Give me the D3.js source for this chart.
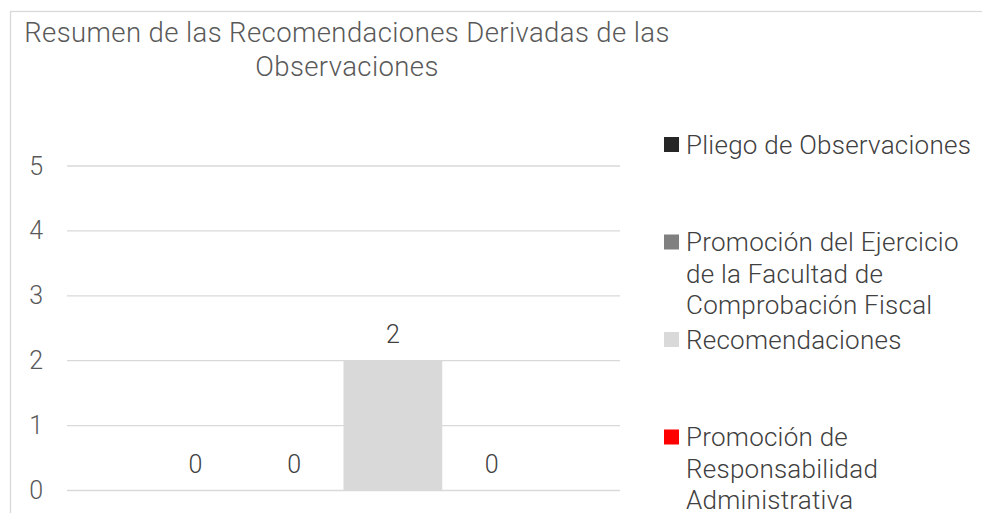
<!DOCTYPE html>
<html>
<head>
<meta charset="utf-8">
<script src="https://cdn.jsdelivr.net/npm/d3@7"></script>
<style>
  html, body { margin: 0; padding: 0; background: #fff; }
  svg { display: block; }
  text { font-family: Roboto, "Noto Sans", sans-serif; font-weight: 300; }
</style>
</head>
<body>
<svg id="chart" width="982" height="513"></svg>
<script>
const titleLines = ["Resumen de las Recomendaciones Derivadas de las", "Observaciones"];
const categories = ["Total"];
const seriesNames = [
  "Pliego de Observaciones",
  "Promoción del Ejercicio de la Facultad de Comprobación Fiscal",
  "Recomendaciones",
  "Promoción de Responsabilidad Administrativa"
];
const legendLines = [
  ["Pliego de Observaciones"],
  ["Promoción del Ejercicio", "de la Facultad de", "Comprobación Fiscal"],
  ["Recomendaciones"],
  ["Promoción de", "Responsabilidad", "Administrativa"]
];
const seriesValues = [0, 0, 2, 0];
const seriesColors = ["#262626", "#808080", "#d9d9d9", "#ff0000"];
const yTicks = [0, 1, 2, 3, 4, 5];

const svg = d3.select("#chart");

// chart area border
svg.append("rect")
  .attr("x", 10.5).attr("y", 11.5)
  .attr("width", 1000).attr("height", 520)
  .attr("fill", "#fff").attr("stroke", "#d9d9d9").attr("stroke-width", 1.3);

// title
svg.append("g").selectAll("text").data(titleLines).join("text")
  .attr("x", 347).attr("y", (d, i) => 41.5 + i * 34)
  .attr("text-anchor", "middle")
  .attr("fill", "#595959")
  .style("font-size", "27.5px")
  .style("letter-spacing", "0.4px")
  .text(d => d);

const plot = { left: 67, right: 620, top: 166, bottom: 490.5 };

const y = d3.scaleLinear().domain([0, 5]).range([plot.bottom, plot.top]);
const x0 = d3.scaleBand().domain(categories).range([plot.left, plot.right]);
const x1 = d3.scaleBand().domain(seriesNames).range([0, x0.bandwidth()])
  .paddingInner(0).paddingOuter(0.8);

// gridlines
svg.append("g").selectAll("line").data(yTicks).join("line")
  .attr("x1", plot.left).attr("x2", plot.right)
  .attr("y1", d => y(d)).attr("y2", d => y(d))
  .attr("stroke", "#d9d9d9").attr("stroke-width", 1.3);

// y axis labels
const yAxis = d3.axisLeft(y).tickValues(yTicks).tickSize(0).tickPadding(0).tickFormat(d3.format("d"));
const yg = svg.append("g").attr("transform", `translate(${plot.left - 24},0)`).call(yAxis);
yg.select(".domain").remove();
yg.selectAll("text").attr("fill", "#595959").style("font-size", "25px")
  .style("font-family", "Roboto, sans-serif").style("font-weight", 300);

// bars
const data = seriesNames.map((s, i) => ({ cat: categories[0], s, v: seriesValues[i], c: seriesColors[i] }));
const g = svg.append("g");
g.selectAll("rect").data(data).join("rect")
  .attr("x", d => x0(d.cat) + x1(d.s))
  .attr("width", x1.bandwidth())
  .attr("y", d => y(d.v))
  .attr("height", d => y(0) - y(d.v))
  .attr("fill", d => d.c);

// data labels
g.selectAll("text").data(data).join("text")
  .attr("x", d => x0(d.cat) + x1(d.s) + x1.bandwidth() / 2)
  .attr("y", d => y(d.v) - 18)
  .attr("text-anchor", "middle")
  .attr("fill", "#404040")
  .style("font-size", "25px")
  .text(d => d.v);

// legend
const leg = svg.append("g").selectAll("g").data(seriesNames).join("g")
  .attr("transform", (d, i) => `translate(664,${144.5 + i * 97.5})`);
leg.append("rect")
  .attr("x", 0).attr("y", -7.5).attr("width", 15).attr("height", 15)
  .attr("fill", (d, i) => seriesColors[i]);
leg.each(function(d, i) {
  d3.select(this).selectAll("text").data(legendLines[i]).join("text")
    .attr("x", 22).attr("y", (l, j) => 9 + j * 31.5)
    .attr("fill", "#404040")
    .style("font-size", "26px")
    .style("letter-spacing", "0.25px")
    .text(l => l);
});
</script>
</body>
</html>
